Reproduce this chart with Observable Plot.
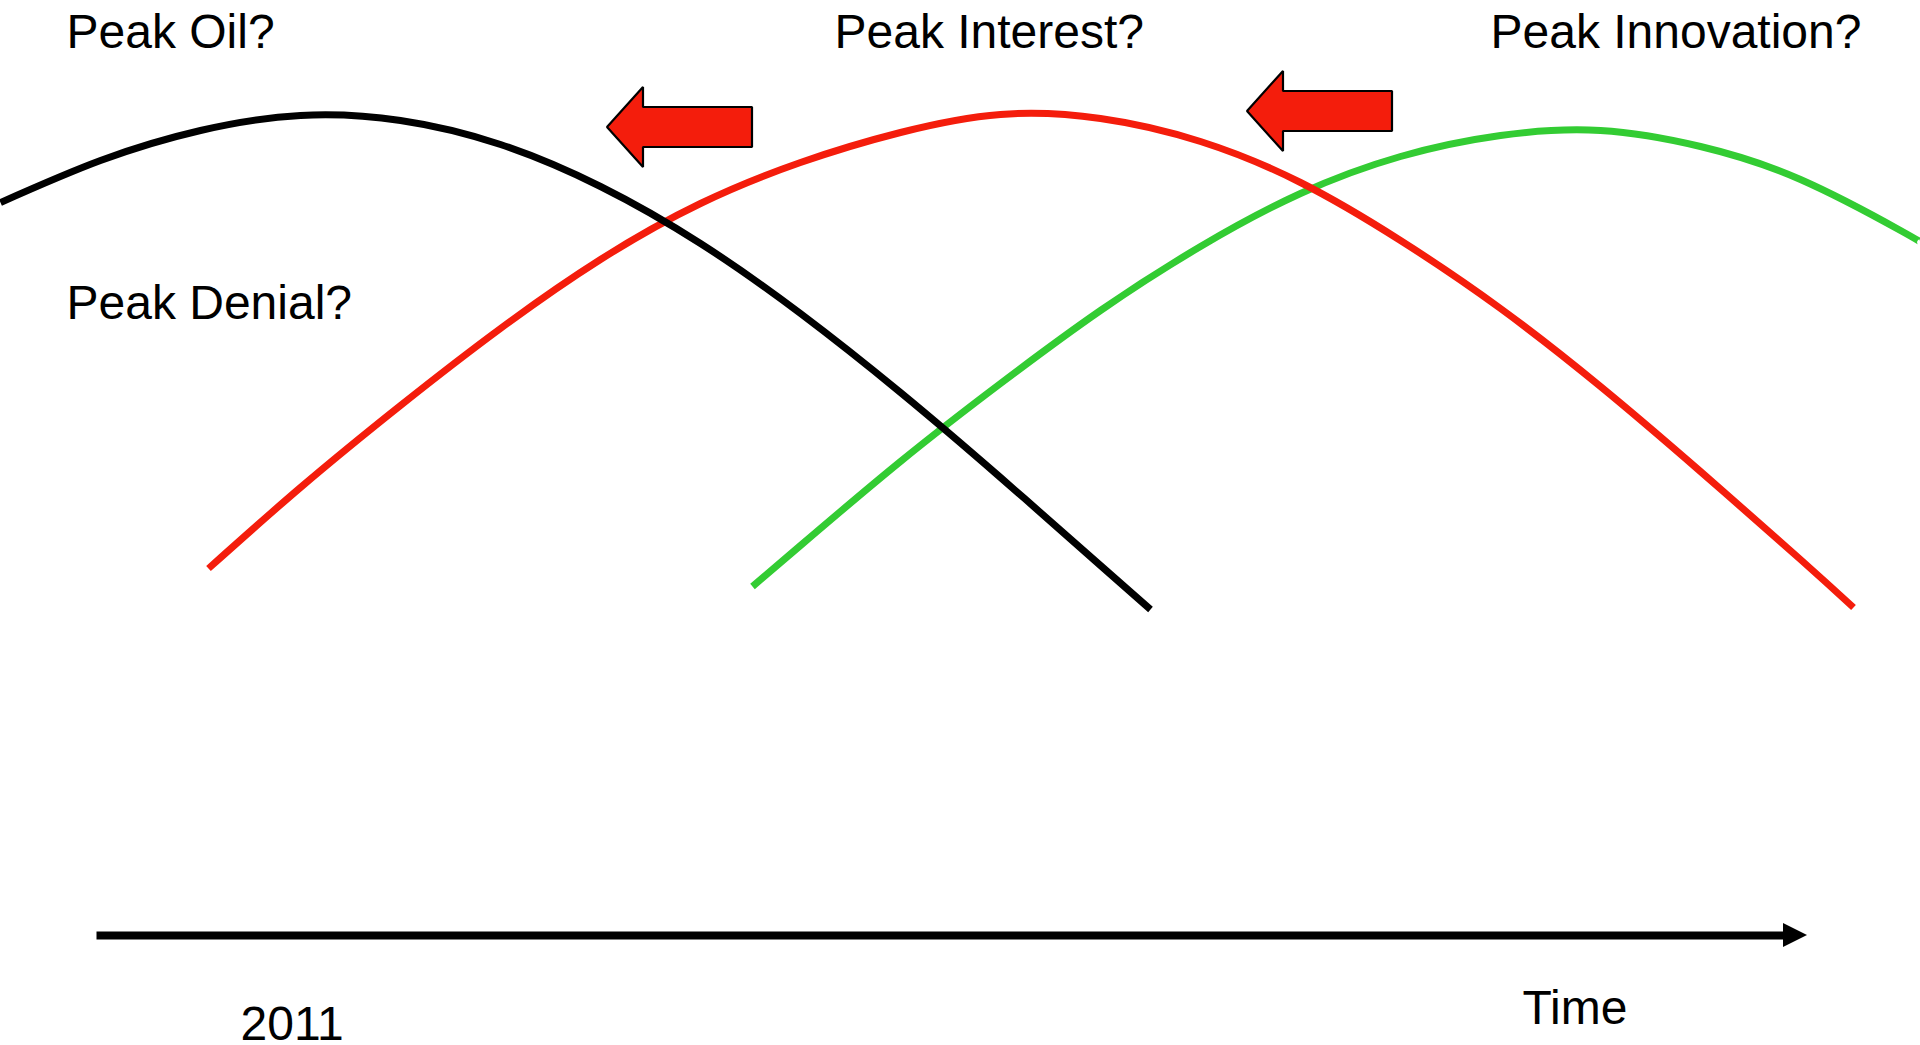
<!DOCTYPE html>
<html>
<head>
<meta charset="utf-8">
<script src="https://cdn.jsdelivr.net/npm/d3@7"></script>
<script src="https://cdn.jsdelivr.net/npm/@observablehq/plot@0.6"></script>
<style>
html, body { margin: 0; padding: 0; background: #ffffff; overflow: hidden; }
#chart svg { display: block; }
</style>
</head>
<body>
<div id="chart"></div>
<script>
// ---- Data (time units on x, "level" units on y) ----
const oilTime   = [0, 100, 200, 300, 400, 500, 600, 700, 800, 900, 1000, 1100, 1150];
const oilLevel  = [843, 885, 915, 930, 925, 901, 859, 802, 732, 653, 568, 480, 436];

const interestTime  = [208, 300, 400, 500, 600, 700, 800, 900, 1000, 1100, 1200, 1300, 1400, 1500, 1600, 1700, 1800, 1853];
const interestLevel = [477, 558, 640, 717, 786, 842, 883, 913, 931, 927, 904, 863, 805, 737, 659, 574, 486, 438];

const innovationTime  = [752, 800, 900, 1000, 1100, 1200, 1300, 1400, 1500, 1600, 1700, 1800, 1900, 1920];
const innovationLevel = [459, 500, 584, 662, 735, 799, 852, 889, 910, 915, 899, 866, 815, 803];

// Labels
const labelText  = ["Peak Oil?", "Peak Interest?", "Peak Innovation?", "Peak Denial?", "2011", "Time"];
const labelTime  = [66, 834, 1490, 66, 240, 1522];
const labelLevel = [998, 998, 998, 727, 6, 22];

// Block arrows (pointing back in time): tip, head base, shaft end; head and shaft extents
const arrowId        = ["a1", "a2"];
const arrowTip       = [607, 1247];
const arrowHeadBase  = [643, 1283];
const arrowShaftEnd  = [752, 1392];
const arrowMid       = [918, 934];
const arrowHeadHalf  = [40, 40];
const arrowShaftHalf = [20, 20];

// Time axis
const axisLevel = 110;
const axisStart = 96;
const axisHeadBase = 1783;
const axisEnd = 1807;
const axisHeadHalf = 12;

// ---- Build tables ----
const series = [
  ...oilTime.map((t, i) => ({name: "Peak Oil", t, v: oilLevel[i]})),
  ...interestTime.map((t, i) => ({name: "Peak Interest", t, v: interestLevel[i]})),
  ...innovationTime.map((t, i) => ({name: "Peak Innovation", t, v: innovationLevel[i]}))
];
const labels = labelText.map((s, i) => ({s, t: labelTime[i], v: labelLevel[i]}));

const arrows = arrowId.flatMap((id, i) => [
  {id, t: arrowTip[i], y1: arrowMid[i], y2: arrowMid[i]},
  {id, t: arrowHeadBase[i], y1: arrowMid[i] + arrowHeadHalf[i], y2: arrowMid[i] - arrowHeadHalf[i]},
  {id, t: arrowHeadBase[i], y1: arrowMid[i] + arrowShaftHalf[i], y2: arrowMid[i] - arrowShaftHalf[i]},
  {id, t: arrowShaftEnd[i], y1: arrowMid[i] + arrowShaftHalf[i], y2: arrowMid[i] - arrowShaftHalf[i]}
]);

const axisShaft = [{t: axisStart, v: axisLevel}, {t: axisHeadBase + 2, v: axisLevel}];
const axisHead = [
  {t: axisHeadBase, y1: axisLevel + axisHeadHalf, y2: axisLevel - axisHeadHalf},
  {t: axisEnd, y1: axisLevel, y2: axisLevel}
];

const colors = {"Peak Oil": "#000000", "Peak Interest": "#F41D0C", "Peak Innovation": "#33CC33"};
const FONT = "'Liberation Sans', Arial, Helvetica, sans-serif";

const lineOpts = {x: "t", y: "v", stroke: "name", strokeWidth: 7, strokeLinecap: "butt", curve: "natural"};

const chart = Plot.plot({
  width: 1920,
  height: 1045,
  margin: 0,
  x: {domain: [0, 1920], axis: null},
  y: {domain: [0, 1045], axis: null},
  color: {domain: Object.keys(colors), range: Object.values(colors)},
  style: {background: "#ffffff", fontFamily: FONT},
  marks: [
    Plot.line(series.filter(d => d.name === "Peak Innovation"), lineOpts),
    Plot.line(series.filter(d => d.name === "Peak Interest"), lineOpts),
    Plot.line(series.filter(d => d.name === "Peak Oil"), lineOpts),
    Plot.areaY(arrows, {x: "t", y1: "y1", y2: "y2", z: "id", fill: "#F41D0C", stroke: "#000000", strokeWidth: 2.2, strokeLinejoin: "miter", curve: "linear"}),
    Plot.line(axisShaft, {x: "t", y: "v", stroke: "#000000", strokeWidth: 8, strokeLinecap: "butt"}),
    Plot.areaY(axisHead, {x: "t", y1: "y1", y2: "y2", fill: "#000000", curve: "linear"}),
    Plot.text(labels, {x: "t", y: "v", text: "s", textAnchor: "start", lineAnchor: "bottom", fontSize: 48, fill: "#000000", fontFamily: FONT})
  ]
});
document.getElementById("chart").appendChild(chart);
</script>
</body>
</html>
